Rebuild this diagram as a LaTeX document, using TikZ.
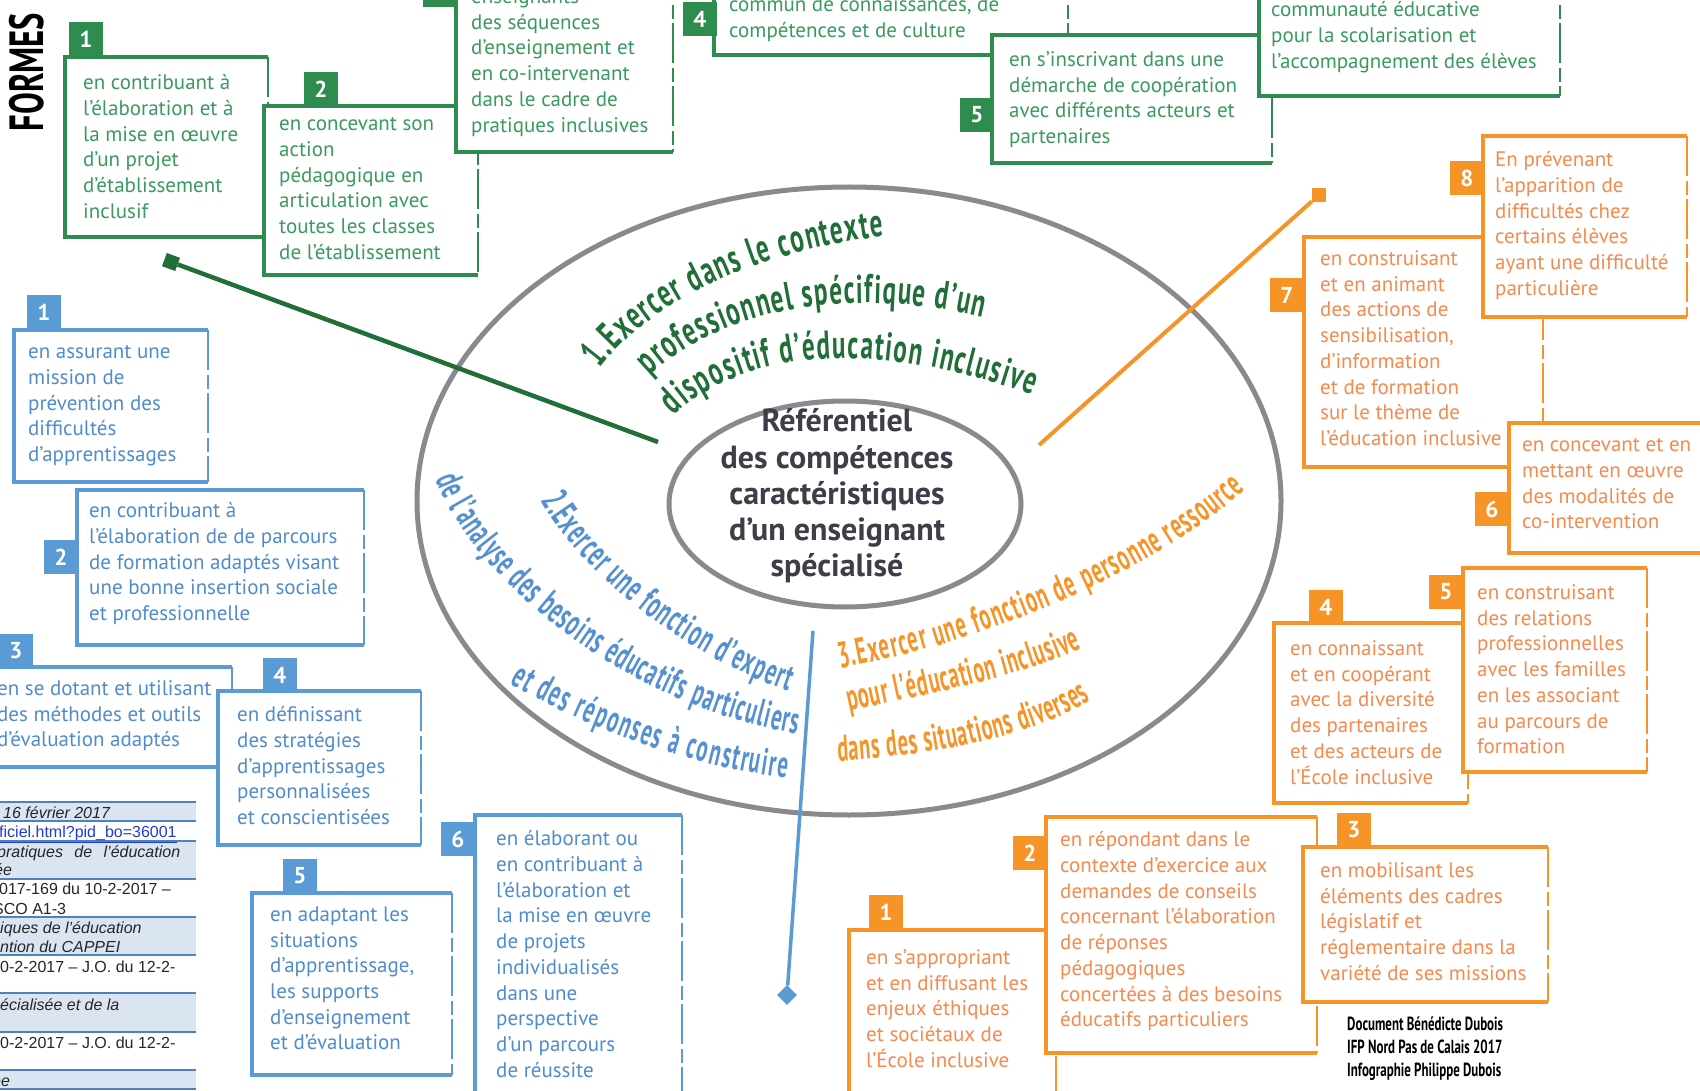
\documentclass[tikz,border=0pt]{standalone}
\usepackage{fontspec}
\setmainfont{PT Sans}
\newfontfamily\narrowfont[FakeStretch=0.68]{PT Sans}
\newfontfamily\arcgfont[FakeStretch=0.63]{PT Sans}
\newfontfamily\arcbfont[FakeStretch=0.55]{PT Sans}
\newfontfamily\arcofont[FakeStretch=0.55]{PT Sans}
\newfontfamily\tabfont{Liberation Sans}
\usepackage{tikz}
\usetikzlibrary{decorations.text}
\definecolor{gline}{RGB}{46,140,78}
\definecolor{gtext}{RGB}{58,154,95}
\definecolor{gcurve}{RGB}{32,110,56}
\definecolor{bline}{RGB}{91,155,213}
\definecolor{btext}{RGB}{80,140,205}
\definecolor{bcurve}{RGB}{85,145,210}
\definecolor{oline}{RGB}{247,148,40}
\definecolor{otext}{RGB}{245,138,78}
\definecolor{ocurve}{RGB}{247,148,40}
\definecolor{ring}{RGB}{138,138,142}
\definecolor{coretext}{RGB}{62,62,72}
\definecolor{tfill}{RGB}{219,229,241}
\definecolor{tline}{RGB}{79,129,189}
\definecolor{link}{RGB}{30,60,220}
\newcommand\arcgreen{\arcgfont\bfseries\fontsize{40}{40}\selectfont\color{gcurve}}
\newcommand\arcblue{\arcbfont\bfseries\fontsize{38}{38}\selectfont\color{bcurve}}
\newcommand\arcorange{\arcofont\bfseries\fontsize{37}{37}\selectfont\color{ocurve}}

\begin{document}
\begin{tikzpicture}[x=1pt,y=-1pt,
ring/.style={draw=ring, line width=5pt},
gedge/.style={draw=gline, line width=3.5pt},
gside/.style={draw=gline, line width=1.3pt, dash pattern=on 40pt off 5pt on 14pt off 4pt},
bedge/.style={gedge, draw=bline},
bside/.style={gside, draw=bline},
oedge/.style={gedge, draw=oline},
oside/.style={gside, draw=oline},
gnum/.style={
  fill=gline,
  text=white,
  minimum size=34pt,
  inner sep=0pt,
  font={\fontsize{23}{23}\selectfont\bfseries}},
bnum/.style={gnum, fill=bline},
onum/.style={gnum, fill=oline},
gtxt/.style={
  anchor=north west,
  align=left,
  inner sep=0pt,
  text=gtext,
  font={\fontsize{21}{25.7}\selectfont},
  execute at begin node=\strut},
btxt/.style={gtxt, text=btext},
otxt/.style={gtxt, text=otext},
core/.style={align=center, inner sep=0pt, text=coretext,
  font={\bfseries\fontsize{32}{36.2}\selectfont}},
gconn/.style={draw=gcurve, line width=4.5pt},
oconn/.style={draw=oline, line width=4pt},
bconn/.style={draw=bline, line width=3.5pt},
gsq/.style={fill=gcurve, minimum size=14pt, inner sep=0pt, rotate=-20},
osq/.style={fill=oline, minimum size=14pt, inner sep=0pt},
bdia/.style={fill=bline, minimum size=14pt, inner sep=0pt, rotate=45},
tab/.style={anchor=base west, inner sep=0pt, text=black!85,
  font={\tabfont\fontsize{16}{16}\selectfont}},
tabi/.style={tab, font={\tabfont\fontsize{16}{16}\selectfont\itshape}},
]
\useasboundingbox (0,0) rectangle (1700,1091);
\clip (0,0) rectangle (1700,1091);
\fill[white] (0,0) rectangle (1700,1091);

% table fragment, bottom left
\fill[tfill] (0,802) rectangle (196,821);
\fill[tfill] (0,841) rectangle (196,879);
\fill[tfill] (0,917) rectangle (196,955);
\fill[tfill] (0,993) rectangle (196,1032);
\fill[tfill] (0,1070) rectangle (196,1089);
\draw[tline, line width=2.2pt] (0,802) -- (196,802);
\draw[tline, line width=1.3pt] (0,821) -- (196,821) (0,841) -- (196,841)
  (0,879) -- (196,879) (0,917) -- (196,917) (0,955) -- (196,955)
  (0,993) -- (196,993) (0,1032) -- (196,1032) (0,1070) -- (196,1070)
  (0,1089) -- (196,1089);
\node[tabi] (t1) at (3,818) {16 février 2017};
\node[tab, text=link] (t2) at (-1,837) {\underline{ficiel.html?pid\_bo=36001}};
\node[tabi] (t3) at (-3,857) {\makebox[183pt][s]{pratiques de l’éducation}};
\node[tabi] (t4) at (-6,875) {ée};
\node[tab] (t5) at (-1,894) {017-169 du 10-2-2017 –};
\node[tab] (t6) at (-7,914) {SCO A1-3};
\node[tabi] (t7) at (0,933) {iques de l’éducation};
\node[tabi] (t8) at (0,952) {ntion du CAPPEI};
\node[tab] (t9) at (0,972) {0-2-2017 – J.O. du 12-2-};
\node[tabi] (t10) at (0,1010) {écialisée et de la};
\node[tab] (t11) at (0,1048) {0-2-2017 – J.O. du 12-2-};
\node[tabi] (t12) at (-8,1086) {ée};

% rings
\draw[ring] (849,501) ellipse [x radius=432, y radius=314];
\draw[ring] (845,504) ellipse [x radius=176, y radius=103];
\node[core] (ref) at (837,496) {Référentiel\\des compétences\\caractéristiques\\d’un enseignant\\spécialisé};

% curved titles
\path[decorate, decoration={text along path, text align=fit to path,
  text={|\arcgreen|1.Exercer dans le contexte}}]
  (600,369) .. controls (650,301) and (759,251) .. (884,236);
\path[decorate, decoration={text along path, text align=fit to path,
  text={|\arcgreen|professionnel spécifique d’un}}]
  (650,376) .. controls (705,322) and (824,280) .. (983,317);
\path[decorate, decoration={text along path, text align=fit to path,
  text={|\arcgreen|dispositif d’éducation inclusive}}]
  (674,416) .. controls (721,369) and (835,325) .. (1032,395);
\path[decorate, decoration={text along path, text align=fit to path,
  text={|\arcblue|de l’analyse des besoins éducatifs particuliers}}]
  (436,479) .. controls (477,585) and (629,705) .. (797,734);
\path[decorate, decoration={text along path, text align=fit to path,
  text={|\arcblue|2.Exercer une fonction d’expert}}]
  (541,500) .. controls (575,564) and (672,650) .. (788,691);
\path[decorate, decoration={text along path, text align=fit to path,
  text={|\arcblue|et des réponses à construire}}]
  (510,683) .. controls (564,716) and (672,764) .. (787,778);
\path[decorate, decoration={text along path, text align=fit to path,
  text={|\arcorange|3.Exercer une fonction de personne ressource}}]
  (840,668) .. controls (954,650) and (1138,585) .. (1245,490);
\path[decorate, decoration={text along path, text align=fit to path,
  text={|\arcorange|pour l’éducation inclusive}}]
  (849,711) .. controls (922,695) and (1019,678) .. (1082,648);
\path[decorate, decoration={text along path, text align=fit to path,
  text={|\arcorange|dans des situations diverses}}]
  (838,761) .. controls (922,756) and (1030,739) .. (1091,700);

% connectors
\coordinate (gfoot) at (658,442);
\node[gsq] (gend) at (171,262) {};
\draw[gconn] (gfoot) -- (gend);
\coordinate (ofoot) at (1039,445);
\node[osq] (oend) at (1319,195) {};
\draw[oconn] (ofoot) -- (oend);
\coordinate (bfoot) at (813,631);
\node[bdia] (bdiam) at (787,995) {};
\draw[bconn] (bfoot) -- (bdiam);

% green boxes
\fill[white] (65,57) rectangle (268,237);
\draw[gedge] (268,57) -| (65,237) -- (268,237);
\draw[gside] (268,57) -- (268,237);
\node[gnum] (g1) at (86,39) {1};
\node[gtxt] (g1t) at (83,74.5) {en contribuant à\\l’élaboration et à\\la mise en œuvre\\d’un projet\\d’établissement\\inclusif};

\fill[white] (264,106) rectangle (478,275);
\draw[gedge] (478,106) -| (264,275) -- (478,275);
\draw[gside] (478,106) -- (478,275);
\node[gnum] (g2) at (321,89) {2};
\node[gtxt] (g2t) at (279,117.5) {en concevant son\\action\\pédagogique en\\articulation avec\\toutes les classes\\de l’établissement};

\fill[white] (456,-40) rectangle (673,152);
\draw[gedge] (673,-40) -| (456,152) -- (673,152);
\draw[gside] (673,-40) -- (673,152);
\node[gnum] (g3) at (440,-10) {3};
\node[gtxt] (g3t) at (471,-11.5) {enseignants\\des séquences\\d’enseignement et\\en co-intervenant\\dans le cadre de\\pratiques inclusives};

\fill[white] (714,-40) rectangle (1068,55);
\draw[gedge] (1068,-40) -| (714,55) -- (1068,55);
\draw[gside] (1068,-40) -- (1068,55);
\node[gnum] (g4) at (700,19) {4};
\node[gtxt] (g4t) at (729,-3.5) {commun de connaissances, de\\compétences et de culture};

\fill[white] (992,35) rectangle (1272,163);
\draw[gedge] (1272,35) -| (992,163) -- (1272,163);
\draw[gside] (1272,35) -- (1272,163);
\node[gnum] (g5) at (977,115) {5};
\node[gtxt] (g5t) at (1009,51.5) {en s’inscrivant dans une\\démarche de coopération\\avec différents acteurs et\\partenaires};

\fill[white] (1259,-40) rectangle (1560,96);
\draw[gedge] (1560,-40) -| (1259,96) -- (1560,96);
\draw[gside] (1560,-40) -- (1560,96);
\node[gtxt] (g6t) at (1271,1.5) {communauté éducative\\pour la scolarisation et\\l’accompagnement des élèves};

% blue boxes
\fill[white] (14,330) rectangle (208,482);
\draw[bedge] (208,330) -| (14,482) -- (208,482);
\draw[bside] (208,330) -- (208,482);
\node[bnum] (b1) at (44,312) {1};
\node[btxt] (b1t) at (28,345.5) {en assurant une\\mission de\\prévention des\\difficultés\\d’apprentissages};

\fill[white] (77,490) rectangle (364,645);
\draw[bedge] (364,490) -| (77,645) -- (364,645);
\draw[bside] (364,490) -- (364,645);
\node[bnum] (b2) at (61,557) {2};
\node[btxt] (b2t) at (89,502.5) {en contribuant à\\l’élaboration de de parcours\\de formation adaptés visant\\une bonne insertion sociale\\et professionnelle};

\fill[white] (-20,667) rectangle (232,767);
\draw[bedge] (232,667) -| (-20,767) -- (232,767);
\draw[bside] (232,667) -- (232,767);
\node[bnum] (b3) at (16,651) {3};
\node[btxt] (b3t) at (-3,680.5) {en se dotant et utilisant\\des méthodes et outils\\d’évaluation adaptés};

\fill[white] (218,691) rectangle (421,845);
\draw[bedge] (421,691) -| (218,845) -- (421,845);
\draw[bside] (421,691) -- (421,845);
\node[bnum] (b4) at (280,675) {4};
\node[btxt] (b4t) at (237,706.5) {en définissant\\des stratégies\\d’apprentissages\\personnalisées\\et conscientisées};

\fill[white] (252,893) rectangle (452,1075);
\draw[bedge] (452,893) -| (252,1075) -- (452,1075);
\draw[bside] (452,893) -- (452,1075);
\node[bnum] (b5) at (300,876) {5};
\node[btxt] (b5t) at (270,906.5) {en adaptant les\\situations\\d’apprentissage,\\les supports\\d’enseignement\\et d’évaluation};

\fill[white] (475,815) rectangle (682,1120);
\draw[bedge] (682,815) -| (475,1120) -- (682,1120);
\draw[bside] (682,815) -- (682,1120);
\node[bnum] (b6) at (458,839) {6};
\node[btxt] (b6t) at (496,830.5) {en élaborant ou\\en contribuant à\\l’élaboration et\\la mise en œuvre\\de projets\\individualisés\\dans une\\perspective\\d’un parcours\\de réussite};

% orange boxes
\fill[white] (849,930) rectangle (1056,1120);
\draw[oedge] (1056,930) -| (849,1120) -- (1056,1120);
\draw[oside] (1056,930) -- (1056,1120);
\node[onum] (o1) at (886,912) {1};
\node[otxt] (o1t) at (866,949.5) {en s’appropriant\\et en diffusant les\\enjeux éthiques\\et sociétaux de\\l’École inclusive};

\fill[white] (1046,817) rectangle (1317,1053);
\draw[oedge] (1317,817) -| (1046,1053) -- (1317,1053);
\draw[oside] (1317,817) -- (1317,1053);
\node[onum] (o2) at (1030,853) {2};
\node[otxt] (o2t) at (1060,831.5) {en répondant dans le\\contexte d’exercice aux\\demandes de conseils\\concernant l’élaboration\\de réponses\\pédagogiques\\concertées à des besoins\\éducatifs particuliers};

\fill[white] (1303,847) rectangle (1548,1002);
\draw[oedge] (1548,847) -| (1303,1002) -- (1548,1002);
\draw[oside] (1548,847) -- (1548,1002);
\node[onum] (o3) at (1354,830) {3};
\node[otxt] (o3t) at (1320,862.5) {en mobilisant les\\éléments des cadres\\législatif et\\réglementaire dans la\\variété de ses missions};

\fill[white] (1274,623) rectangle (1468,803);
\draw[oedge] (1468,623) -| (1274,803) -- (1468,803);
\draw[oside] (1468,623) -- (1468,803);
\node[onum] (o4) at (1326,607) {4};
\node[otxt] (o4t) at (1290,640.5) {en connaissant\\et en coopérant\\avec la diversité\\des partenaires\\et des acteurs de\\l’École inclusive};

\fill[white] (1463,568) rectangle (1647,772);
\draw[oedge] (1647,568) -| (1463,772) -- (1647,772);
\draw[oside] (1647,568) -- (1647,772);
\node[onum] (o5) at (1446,592) {5};
\node[otxt] (o5t) at (1477,584.5) {en construisant\\des relations\\professionnelles\\avec les familles\\en les associant\\au parcours de\\formation};

\fill[white] (1304,237) rectangle (1543,467);
\draw[oedge] (1543,237) -| (1304,467) -- (1543,467);
\draw[oside] (1543,237) -- (1543,467);
\node[onum] (o7) at (1287,295) {7};
\node[otxt] (o7t) at (1320,250.5) {en construisant\\et en animant\\des actions de\\sensibilisation,\\d’information\\et de formation\\sur le thème de\\l’éducation inclusive};

\fill[white] (1483,136) rectangle (1687,317);
\draw[oedge] (1687,136) -| (1483,317) -- (1687,317);
\draw[oside] (1687,136) -- (1687,317);
\node[onum] (o8) at (1467,178) {8};
\node[otxt] (o8t) at (1495,151.5) {En prévenant\\l’apparition de\\difficultés chez\\certains élèves\\ayant une difficulté\\particulière};

\fill[white] (1509,423) rectangle (1720,553);
\draw[oedge] (1720,423) -| (1509,553) -- (1720,553);
\node[onum] (o6) at (1492,509) {6};
\node[otxt] (o6t) at (1522,438.5) {en concevant et en\\mettant en œuvre\\des modalités de\\co-intervention};

% side title and credits
\node[rotate=90, font={\narrowfont\bfseries\fontsize{48}{48}\selectfont}] (formes) at (27,72) {FORMES};
\node[anchor=north west, align=left, inner sep=0pt, execute at begin node=\strut,
  font={\narrowfont\bfseries\fontsize{19}{23}\selectfont}] (credit) at (1347,1017) {Document Bénédicte Dubois\\IFP Nord Pas de Calais 2017\\Infographie Philippe Dubois};
\end{tikzpicture}
\end{document}
